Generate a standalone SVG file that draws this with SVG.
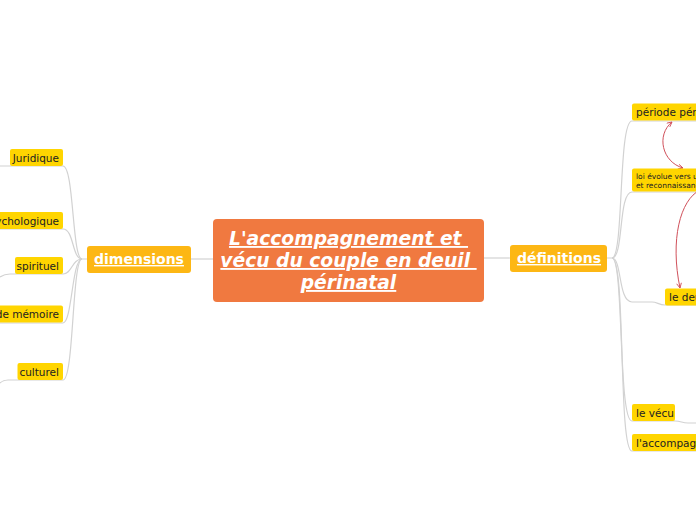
<svg xmlns="http://www.w3.org/2000/svg" width="696" height="520" viewBox="0 0 696 520">
<style>
.conn{fill:none;stroke:#d2d2d2;stroke-width:1.2}
.rel{fill:none;stroke:#d0505a;stroke-width:1}
.leaf{fill:#ffd500}
.main{fill:#fdb714}
.lt{font-family:"DejaVu Sans",Verdana,sans-serif;font-size:10.5px;fill:#222}
.st{font-family:"DejaVu Sans",Verdana,sans-serif;font-size:7.5px;fill:#222}
.mt{font-family:"DejaVu Sans",Verdana,sans-serif;font-size:14px;font-weight:bold;fill:#fff;text-decoration:underline;text-anchor:middle}
.ct{font-family:"DejaVu Sans",Verdana,sans-serif;font-size:18.7px;font-weight:bold;font-style:italic;fill:#fff;text-decoration:underline;text-anchor:middle;white-space:pre}
</style>
<defs>
<marker id="arr" viewBox="0 0 10 10" refX="9" refY="5" markerWidth="6" markerHeight="6" orient="auto-start-reverse" markerUnits="userSpaceOnUse">
<path d="M1,1 L9,5 L1,9" fill="none" stroke="#d0505a" stroke-width="1.5"/>
</marker>
</defs>
<rect width="696" height="520" fill="#fff"/>
<g id="connectors">
<path class="conn" d="M190,259 L213,259"/>
<path class="conn" d="M484,258 L510,258"/>
<path class="conn" d="M0,166 L63,166 C74,166 72,259 82,259 L87,259"/>
<path class="conn" d="M0,229 L63,229 C74,229 72,259 82,259"/>
<path class="conn" d="M0,277 C3,275 5,274 10,274 L63,274 C72,274 72,259 82,259"/>
<path class="conn" d="M0,323 L63,323 C72,323 72,259 82,259"/>
<path class="conn" d="M0,383 C2,381 4,380 8,380 L63,380 C74,380 72,259 82,259"/>
<path class="conn" d="M607,258 L612,258 C624,258 618,121 632,121 L696,121"/>
<path class="conn" d="M612,258 C624,258 618,192 632,192 L696,192"/>
<path class="conn" d="M612,258 C622,258 618,302 632,302 L652,302 C657,302 659,305 665,305 L696,305"/>
<path class="conn" d="M612,258 C624,258 618,421 632,421 L675,421 C681,421 682,423 688,423 L696,423"/>
<path class="conn" d="M612,258 C626,258 618,451 632,451 L696,451"/>
<path class="rel" d="M683,168 C662,162 656,135 672,122" marker-start="url(#arr)" marker-end="url(#arr)"/>
<path class="rel" d="M700,190 C680,200 670,240 680,288" marker-end="url(#arr)"/>
</g>
<g id="center">
<rect x="213" y="219" width="271" height="83" rx="4" fill="#f07940"/>
<text class="ct" x="348.5" y="245">L'accompagnement et </text>
<text class="ct" x="348.5" y="267">vécu du couple en deuil </text>
<text class="ct" x="348.5" y="289">périnatal</text>
</g>
<g id="dimensions">
<rect class="main" x="87" y="246" width="104" height="27" rx="3"/>
<text class="mt" x="139" y="264">dimensions</text>
</g>
<g id="definitions">
<rect class="main" x="510" y="245" width="97" height="27" rx="3"/>
<text class="mt" x="559" y="263">définitions</text>
</g>
<g id="juridique">
<rect class="leaf" x="10" y="149" width="53" height="17" rx="2"/>
<text class="lt" x="59" y="161.5" text-anchor="end">Juridique</text>
</g>
<g id="psychologique">
<rect class="leaf" x="-20" y="212" width="83" height="17" rx="2"/>
<text class="lt" x="59" y="224.5" text-anchor="end">psychologique</text>
</g>
<g id="spirituel">
<rect class="leaf" x="15" y="257" width="48" height="17" rx="2"/>
<text class="lt" x="59" y="269.5" text-anchor="end">spirituel</text>
</g>
<g id="memoire">
<rect class="leaf" x="-20" y="305.5" width="83" height="17" rx="2"/>
<text class="lt" x="59" y="318" text-anchor="end">de mémoire</text>
</g>
<g id="culturel">
<rect class="leaf" x="17.5" y="363" width="45.5" height="17" rx="2"/>
<text class="lt" x="59" y="375.5" text-anchor="end">culturel</text>
</g>
<g id="periode">
<rect class="leaf" x="632" y="103.5" width="100" height="17" rx="2"/>
<text class="lt" x="636" y="116">période périnatale</text>
</g>
<g id="loi">
<rect class="leaf" x="632" y="168.5" width="100" height="23" rx="2"/>
<text class="st" x="636" y="178.5">loi évolue vers une</text>
<text class="st" x="636" y="187.5">et reconnaissance</text>
</g>
<g id="deuil">
<rect class="leaf" x="665" y="288.5" width="60" height="17" rx="2"/>
<text class="lt" x="669" y="301">le deuil</text>
</g>
<g id="vecu">
<rect class="leaf" x="632" y="404" width="43" height="17" rx="2"/>
<text class="lt" x="636" y="416.5">le vécu</text>
</g>
<g id="accompagnement">
<rect class="leaf" x="632" y="434" width="100" height="17" rx="2"/>
<text class="lt" x="636" y="446.5">l'accompagnement</text>
</g>
</svg>
